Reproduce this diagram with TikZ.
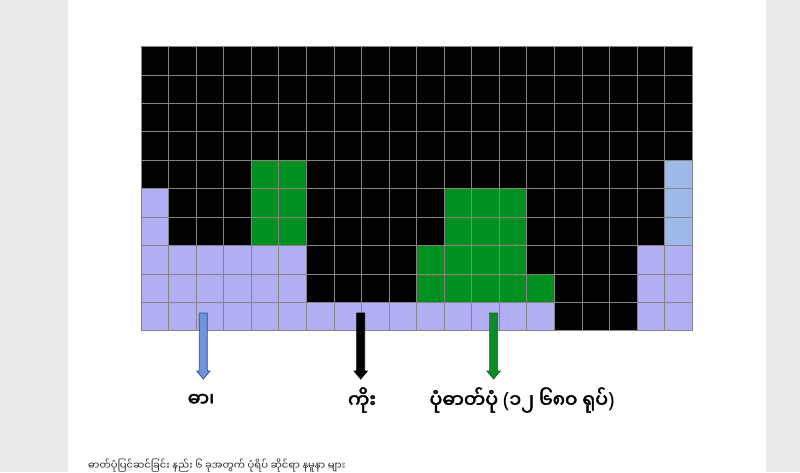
\documentclass[tikz,border=0pt]{standalone}
\usepackage{fontspec}
\newfontfamily\mya[Script=Myanmar]{Noto Sans Myanmar UI}
\newfontfamily\myab[Script=Myanmar,FakeBold=2.5]{Noto Sans Myanmar UI}
\newfontfamily\parfont{Noto Sans}
\definecolor{pagegray}{HTML}{EBEBEB}
\definecolor{cellpurple}{HTML}{B1AEF4}
\definecolor{cellblue}{HTML}{9DB9E9}
\definecolor{cellgreen}{HTML}{00901F}
\definecolor{gridgray}{HTML}{858585}
\definecolor{arrblue}{HTML}{6F93DD}
\definecolor{arrblueedge}{HTML}{2E4B8A}
\definecolor{arrgreen}{HTML}{0B8B26}
\definecolor{arrgreenedge}{HTML}{1E5B22}
\newcommand\gcell[3]{\fill[#3] ({141+27.55*#1},{46.4+28.43*#2}) rectangle +(27.55,28.43);}
\newcommand\blockarrow[3]{\filldraw[fill=#2,draw=#3,line width=0.7pt,line join=miter] ({#1-4},313) -- ({#1+4},313) -- ({#1+4},371) -- ({#1+6.7},371) -- (#1,379) -- ({#1-6.7},371) -- ({#1-4},371) -- cycle;}
\newcommand\bpar[1]{{\parfont\bfseries\fontsize{21}{22}\selectfont #1}}
\tikzset{
  lbl/.style={font=\myab\fontsize{19}{22}\selectfont, inner sep=0pt, text=black},
  gridline/.style={draw=gridgray, line width=0.6pt}
}
\begin{document}
\begin{tikzpicture}[x=1pt,y=-1pt]
\useasboundingbox (0,0) rectangle (800,472);
\fill[pagegray] (0,0) rectangle (800,472);
\fill[white] (68,0) rectangle (766,472);
% background of grid
\fill[black] (141,46.4) rectangle (692,330.7);
% row 4
\foreach \c in {4,5} {\gcell{\c}{4}{cellgreen}}
% rows 5,6
\foreach \r in {5,6} {
  \gcell{0}{\r}{cellpurple}
  \foreach \c in {4,5,11,12,13} {\gcell{\c}{\r}{cellgreen}}
}
\foreach \r in {4,5,6} {\gcell{19}{\r}{cellblue}}
% row 7
\foreach \c in {0,...,5} {\gcell{\c}{7}{cellpurple}}
\foreach \c in {10,...,13} {\gcell{\c}{7}{cellgreen}}
% row 8
\foreach \c in {0,...,5} {\gcell{\c}{8}{cellpurple}}
\foreach \c in {10,...,14} {\gcell{\c}{8}{cellgreen}}
\foreach \r in {7,8} {\foreach \c in {18,19} {\gcell{\c}{\r}{cellpurple}}}
% row 9
\foreach \c in {0,...,14} {\gcell{\c}{9}{cellpurple}}
\foreach \c in {18,19} {\gcell{\c}{9}{cellpurple}}
% grid lines
\foreach \i in {0,...,20} {\draw[gridline] ({141+27.55*\i},46.4) -- ({141+27.55*\i},330.7);}
\foreach \j in {0,...,10} {\draw[gridline] (141,{46.4+28.43*\j}) -- (692,{46.4+28.43*\j});}
% arrows
\blockarrow{203.3}{arrblue}{arrblueedge}
\blockarrow{360.7}{black}{black}
\blockarrow{493.6}{arrgreen}{arrgreenedge}
% labels
\node[lbl] (l1) at (201,400) {ဓာ၊};
\node[lbl] (l2) at (362,400) {ကိုး};
\node[lbl] (l3) at (522,400) {ပုံဓာတ်ပုံ \bpar{(}၁၂ ၆၈၀ ရုပ်\bpar{)}};
\node[anchor=north west, inner sep=0pt, font=\mya\fontsize{10}{12}\selectfont, text=black!85] (cap) at (88,459) {ဓာတ်ပုံပြင်ဆင်ခြင်း နည်း ၆ ခုအတွက် ပုံရိပ် ဆိုင်ရာ နမူနာ များ};
\end{tikzpicture}
\end{document}
